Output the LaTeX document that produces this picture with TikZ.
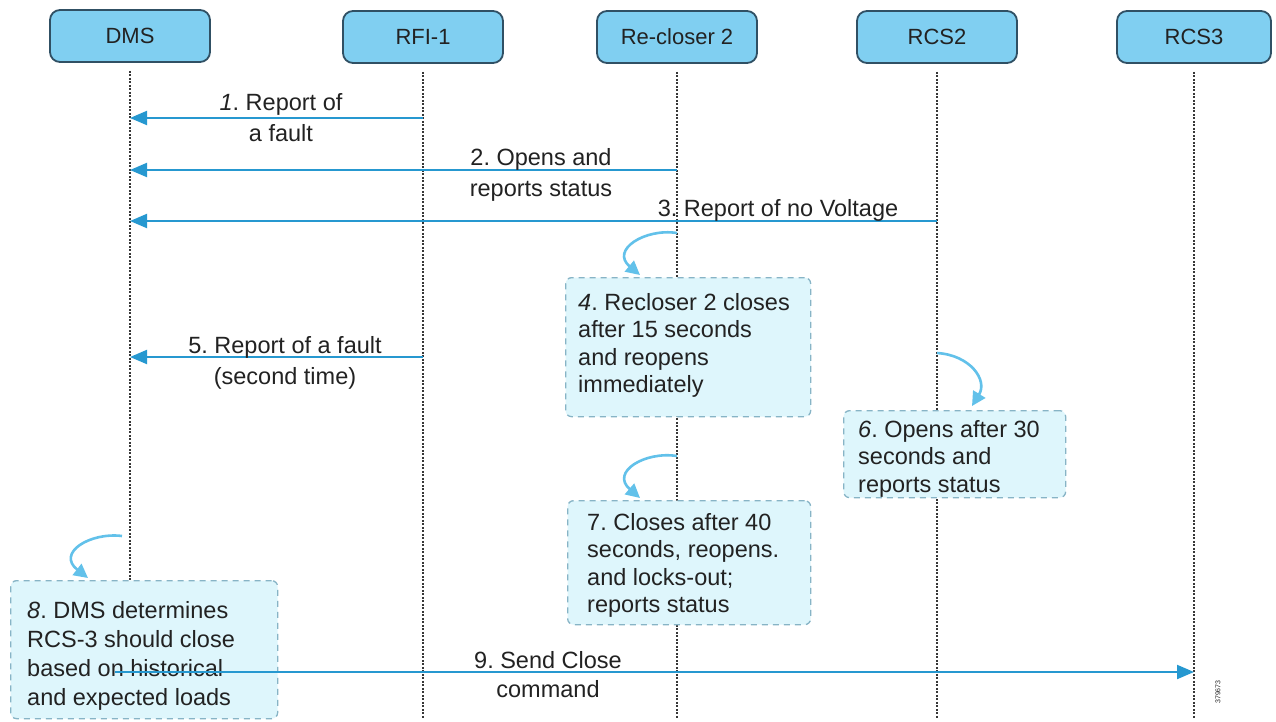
\documentclass[tikz,border=0pt]{standalone}
\usepackage{fontspec}
\setmainfont{Liberation Sans}
\usetikzlibrary{arrows.meta,calc}
\definecolor{headfill}{RGB}{128,207,241}
\definecolor{headborder}{RGB}{48,80,100}
\definecolor{msgc}{RGB}{38,152,208}
\definecolor{loopc}{RGB}{98,193,234}
\definecolor{notefill}{RGB}{222,246,252}
\definecolor{noteborder}{RGB}{135,180,198}
\definecolor{lifec}{RGB}{55,55,55}
\definecolor{txt}{RGB}{34,34,34}
\frenchspacing
\begin{document}
\begin{tikzpicture}[x=1pt,y=-1pt,
  head/.style={draw=headborder, line width=1.8pt, fill=headfill, rounded corners=10pt,
    minimum width=160pt, minimum height=52pt, inner sep=0pt,
    font=\fontsize{22}{25}\selectfont, text=txt},
  life/.style={draw=lifec, line width=1.4pt, dash pattern=on 2pt off 1.5pt},
  msg/.style={draw=msgc, line width=2pt, -{Triangle[length=17pt,width=14pt]}},
  selfloop/.style={draw=loopc, line width=2.6pt, -{Triangle[length=14pt,width=14pt]}},
  note/.style={draw=noteborder, line width=1.3pt, dash pattern=on 6pt off 5pt,
    fill=notefill, rounded corners=6pt, inner sep=0pt, anchor=north west},
  notetext/.style={align=left, inner sep=0pt, anchor=north west,
    font=\fontsize{23.5}{27.5}\selectfont\frenchspacing, text=txt},
  lbl/.style={align=center, inner sep=0pt, anchor=north,
    font=\fontsize{23.5}{31}\selectfont\frenchspacing, text=txt}
]
\useasboundingbox (0,0) rectangle (1276,721);
\fill[white] (0,0) rectangle (1276,721);

% headers
\node[head] (dms) at (130,36) {DMS};
\node[head] (rfi) at (423,37) {RFI-1};
\node[head] (rec) at (677,37) {Re-closer 2};
\node[head] (rcstwo) at (937,37) {RCS2};
\node[head, minimum width=154pt] (rcsthree) at (1194,37) {RCS3};

% lifelines
\coordinate (bottom) at (0,718);
\foreach \n in {dms,rfi,rec,rcstwo,rcsthree}
  \draw[life] ([yshift=-8pt]\n.south) -- (\n.south |- bottom);

% notes (hide lifelines)
\node[note, minimum width=245pt, minimum height=139pt] (n4) at (565,277) {};
\node[note, minimum width=222pt, minimum height=87pt] (n6) at (843,410) {};
\node[note, minimum width=243pt, minimum height=124pt] (n7) at (567,500) {};
\node[note, minimum width=267pt, minimum height=138pt] (n8) at (10,580) {};

\node[notetext] (t4) at (578,293) {\textit{4}. Recloser 2 closes\\after 15 seconds\\and reopens\\immediately};
\node[notetext] (t6) at (858,420) {\textit{6}. Opens after 30\\seconds and\\reports status};
\node[notetext] (t7) at (587,513) {7. Closes after 40\\seconds, reopens.\\and locks-out;\\reports status};
\node[notetext, font=\fontsize{23.5}{29}\selectfont\frenchspacing] (t8) at (27,601) {\textit{8}. DMS determines\\RCS-3 should close\\based on historical\\and expected loads};

% messages
\coordinate (m1a) at (rfi.south |- 0,118);
\coordinate (m1b) at (dms.south |- 0,118);
\draw[msg] (m1a) -- (m1b);
\node[lbl] (l1) at (281,93) {\textit{1}. Report of\\a fault};

\coordinate (m2a) at (rec.south |- 0,170);
\coordinate (m2b) at (dms.south |- 0,170);
\draw[msg] (m2a) -- (m2b);
\node[lbl] (l2) at (541,148) {2. Opens and\\reports status};

\coordinate (m3a) at (rcstwo.south |- 0,221);
\coordinate (m3b) at (dms.south |- 0,221);
\draw[msg] (m3a) -- (m3b);
\node[lbl, anchor=base] (l3) at (778,216) {3. Report of no Voltage};

\coordinate (m5a) at (rfi.south |- 0,357);
\coordinate (m5b) at (dms.south |- 0,357);
\draw[msg] (m5a) -- (m5b);
\node[lbl] (l5) at (285,336) {5. Report of a fault\\(second time)};

\coordinate (m9a) at (115,672);
\coordinate (m9b) at (rcsthree.south |- 0,672);
\draw[msg] (m9a) -- (m9b);
\node[lbl, font=\fontsize{23.5}{29}\selectfont\frenchspacing] (l9) at (548,651) {9. Send Close\\command};

% self loops
\coordinate (s4a) at (rec.south |- 0,233);
\coordinate (s4b) at ($(n4.north west)+(75,-2)$);
\draw[selfloop] (s4a) .. controls (645,228) and (610,250) .. (s4b);

\coordinate (s6a) at (rcstwo.south |- 0,353);
\coordinate (s6b) at ($(n6.north west)+(129,-4)$);
\draw[selfloop] (s6a) .. controls (970,355) and (988,380) .. (s6b);

\coordinate (s7a) at (rec.south |- 0,456);
\coordinate (s7b) at ($(n7.north west)+(73,-2)$);
\draw[selfloop] (s7a) .. controls (645,451) and (610,472) .. (s7b);

\coordinate (s8a) at (122,536);
\coordinate (s8b) at ($(n8.north west)+(78,-2)$);
\draw[selfloop] (s8a) .. controls (90,532) and (56,553) .. (s8b);

% figure id
\node[rotate=90, font=\fontsize{7}{8}\selectfont, text=txt] (fid) at (1218,692) {379673};
\end{tikzpicture}
\end{document}
